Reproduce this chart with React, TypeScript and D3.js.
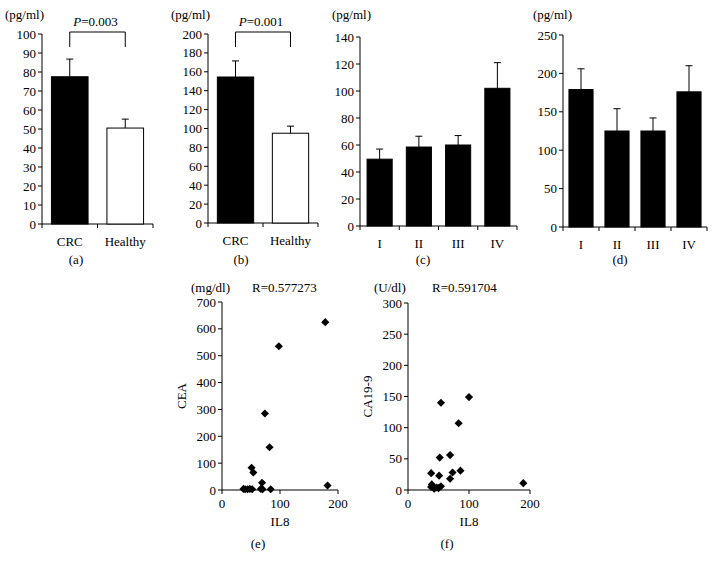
import React from "react";
import * as d3 from "d3";

// ---- Data ----
const groupCats = ["CRC", "Healthy"];
const aMeans = [77.5, 50.5];
const aErr = [9.3, 4.7];
const bMeans = [154.5, 95];
const bErr = [17, 7.5];
const stageCats = ["I", "II", "III", "IV"];
const cMeans = [49.5, 58.5, 60, 102];
const cErr = [7.5, 8, 7, 19];
const dMeans = [179, 125, 125, 176];
const dErr = [27, 29, 17, 34];
const aTicks = [0, 10, 20, 30, 40, 50, 60, 70, 80, 90, 100];
const bTicks = [0, 20, 40, 60, 80, 100, 120, 140, 160, 180, 200];
const cTicks = [0, 20, 40, 60, 80, 100, 120, 140];
const dTicks = [0, 50, 100, 150, 200, 250];

const ceaIL8 = [178, 98, 74, 82, 51, 54, 69, 182, 37, 40, 44, 48, 52, 67, 70, 84];
const ceaVal = [625, 535, 285, 159, 83, 65, 27, 17, 4, 3, 3, 4, 3, 4, 3, 3];
const caIL8 = [100, 54, 83, 69, 52, 38, 73, 86, 69, 51, 189, 39, 38, 43, 50, 54, 47];
const caVal = [149, 140, 107, 56, 52, 27, 28, 31, 18, 23, 11, 9, 5, 2, 3, 6, 4];
const eTicksY = [0, 100, 200, 300, 400, 500, 600, 700];
const fTicksY = [0, 50, 100, 150, 200, 250, 300];
const scatTicksX = [0, 100, 200];

const FONT = "'Liberation Serif', 'DejaVu Serif', serif";

type BarProps = {
  cats: string[];
  means: number[];
  errs: number[];
  ticks: number[];
  x0: number;
  x1: number;
  yTop: number;
  yBot: number;
  fill: string[];
  widthFrac: number;
  unitX: number;
  letter: string;
  letterX: number;
  pText?: string;
};

function BarPanel(p: BarProps) {
  const x = d3.scaleBand<string>().domain(p.cats).range([p.x0, p.x1]).padding(0);
  const y = d3
    .scaleLinear()
    .domain([0, p.ticks[p.ticks.length - 1]])
    .range([p.yBot, p.yTop]);
  const bw = x.bandwidth() * p.widthFrac;
  const cx = (c: string) => (x(c) as number) + x.bandwidth() / 2;
  const boundaries = d3.range(p.cats.length + 1).map((i) => p.x0 + i * x.step());
  return (
    <g fontFamily={FONT} fill="#000">
      <line x1={p.x0} x2={p.x0} y1={p.yTop} y2={p.yBot} stroke="#000" strokeWidth={1} />
      {p.ticks.map((t) => (
        <g key={t}>
          <line x1={p.x0 - 4} x2={p.x0} y1={y(t)} y2={y(t)} stroke="#000" />
          <text x={p.x0 - 6} y={y(t)} dy="0.35em" textAnchor="end" fontSize={13}>
            {t}
          </text>
        </g>
      ))}
      <line x1={p.x0} x2={p.x1} y1={p.yBot} y2={p.yBot} stroke="#000" />
      {boundaries.map((b, i) => (
        <line key={i} x1={b} x2={b} y1={p.yBot} y2={p.yBot + 4} stroke="#000" />
      ))}
      {p.cats.map((c, i) => (
        <g key={c}>
          <rect
            x={cx(c) - bw / 2}
            y={y(p.means[i])}
            width={bw}
            height={p.yBot - y(p.means[i])}
            fill={p.fill[i]}
            stroke="#000"
            strokeWidth={1}
          />
          <line x1={cx(c)} x2={cx(c)} y1={y(p.means[i])} y2={y(p.means[i] + p.errs[i])} stroke="#000" />
          <line
            x1={cx(c) - 3.5}
            x2={cx(c) + 3.5}
            y1={y(p.means[i] + p.errs[i])}
            y2={y(p.means[i] + p.errs[i])}
            stroke="#000"
          />
          <text x={cx(c)} y={p.yBot + 22} textAnchor="middle" fontSize={13}>
            {c}
          </text>
        </g>
      ))}
      <text x={p.unitX} y={19} fontSize={13}>
        (pg/ml)
      </text>
      {p.pText && (
        <g>
          <path
            d={`M${cx(p.cats[0])},${p.yTop + 13} V${p.yTop - 2} H${cx(p.cats[1])} V${p.yTop + 13}`}
            fill="none"
            stroke="#000"
          />
          <text x={(cx(p.cats[0]) + cx(p.cats[1])) / 2 - 2} y={p.yTop - 8} textAnchor="middle" fontSize={13}>
            <tspan fontStyle="italic">P</tspan>
            {p.pText}
          </text>
        </g>
      )}
      <text x={p.letterX} y={264} textAnchor="middle" fontSize={13}>
        {p.letter}
      </text>
    </g>
  );
}

type ScatProps = {
  xs: number[];
  ys: number[];
  ticksY: number[];
  x0: number;
  x1: number;
  yTop: number;
  yBot: number;
  unit: string;
  unitX: number;
  rText: string;
  rX: number;
  yLabel: string;
  letter: string;
};

function ScatterPanel(p: ScatProps) {
  const x = d3.scaleLinear().domain([0, 200]).range([p.x0, p.x1]);
  const y = d3
    .scaleLinear()
    .domain([0, p.ticksY[p.ticksY.length - 1]])
    .range([p.yBot, p.yTop]);
  const sym = d3.symbol().type(d3.symbolDiamond2).size(42)();
  return (
    <g fontFamily={FONT} fill="#000">
      <line x1={p.x0} x2={p.x0} y1={p.yTop} y2={p.yBot} stroke="#000" />
      {p.ticksY.map((t) => (
        <g key={t}>
          <line x1={p.x0 - 4} x2={p.x0} y1={y(t)} y2={y(t)} stroke="#000" />
          <text x={p.x0 - 6} y={y(t)} dy="0.35em" textAnchor="end" fontSize={13}>
            {t}
          </text>
        </g>
      ))}
      <line x1={p.x0} x2={p.x1} y1={p.yBot} y2={p.yBot} stroke="#000" />
      {scatTicksX.map((t) => (
        <g key={t}>
          <line x1={x(t)} x2={x(t)} y1={p.yBot} y2={p.yBot + 4} stroke="#000" />
          <text x={x(t)} y={p.yBot + 18} textAnchor="middle" fontSize={13}>
            {t}
          </text>
        </g>
      ))}
      {p.xs.map((v, i) => (
        <path key={i} d={sym as string} transform={`translate(${x(v)},${y(p.ys[i])})`} fill="#000" />
      ))}
      <text x={p.unitX} y={292} fontSize={13}>
        {p.unit}
      </text>
      <text x={p.rX} y={292} fontSize={13}>
        {p.rText}
      </text>
      <text
        transform={`translate(${p.x0 - 36},${(p.yTop + p.yBot) / 2}) rotate(-90)`}
        textAnchor="middle"
        fontSize={13}
      >
        {p.yLabel}
      </text>
      <text x={(p.x0 + p.x1) / 2} y={526} textAnchor="middle" fontSize={13}>
        IL8
      </text>
      <text x={(p.x0 + p.x1) / 2 - 22} y={548} textAnchor="middle" fontSize={13}>
        {p.letter}
      </text>
    </g>
  );
}

export default function App() {
  return (
    <svg width={715} height={570} style={{ position: "absolute", left: 0, top: 0, background: "#fff" }}>
      <rect width={715} height={570} fill="#fff" />
      <BarPanel cats={groupCats} means={aMeans} errs={aErr} ticks={aTicks} x0={42} x1={153} yTop={34} yBot={224}
        fill={["#000", "#fff"]} widthFrac={0.66} unitX={5} letter="(a)" letterX={76} pText="=0.003" />
      <BarPanel cats={groupCats} means={bMeans} errs={bErr} ticks={bTicks} x0={208} x1={318} yTop={34} yBot={223}
        fill={["#000", "#fff"]} widthFrac={0.66} unitX={171} letter="(b)" letterX={241} pText="=0.001" />
      <BarPanel cats={stageCats} means={cMeans} errs={cErr} ticks={cTicks} x0={360} x1={517} yTop={37} yBot={226}
        fill={["#000", "#000", "#000", "#000"]} widthFrac={0.64} unitX={332} letter="(c)" letterX={423} />
      <BarPanel cats={stageCats} means={dMeans} errs={dErr} ticks={dTicks} x0={563} x1={707} yTop={35} yBot={227}
        fill={["#000", "#000", "#000", "#000"]} widthFrac={0.67} unitX={533} letter="(d)" letterX={620} />
      <ScatterPanel xs={ceaIL8} ys={ceaVal} ticksY={eTicksY} x0={222} x1={338} yTop={302} yBot={490}
        unit="(mg/dl)" unitX={191} rText="R=0.577273" rX={252} yLabel="CEA" letter="(e)" />
      <ScatterPanel xs={caIL8} ys={caVal} ticksY={fTicksY} x0={408} x1={530} yTop={303} yBot={490}
        unit="(U/dl)" unitX={374} rText="R=0.591704" rX={432} yLabel="CA19-9" letter="(f)" />
    </svg>
  );
}
